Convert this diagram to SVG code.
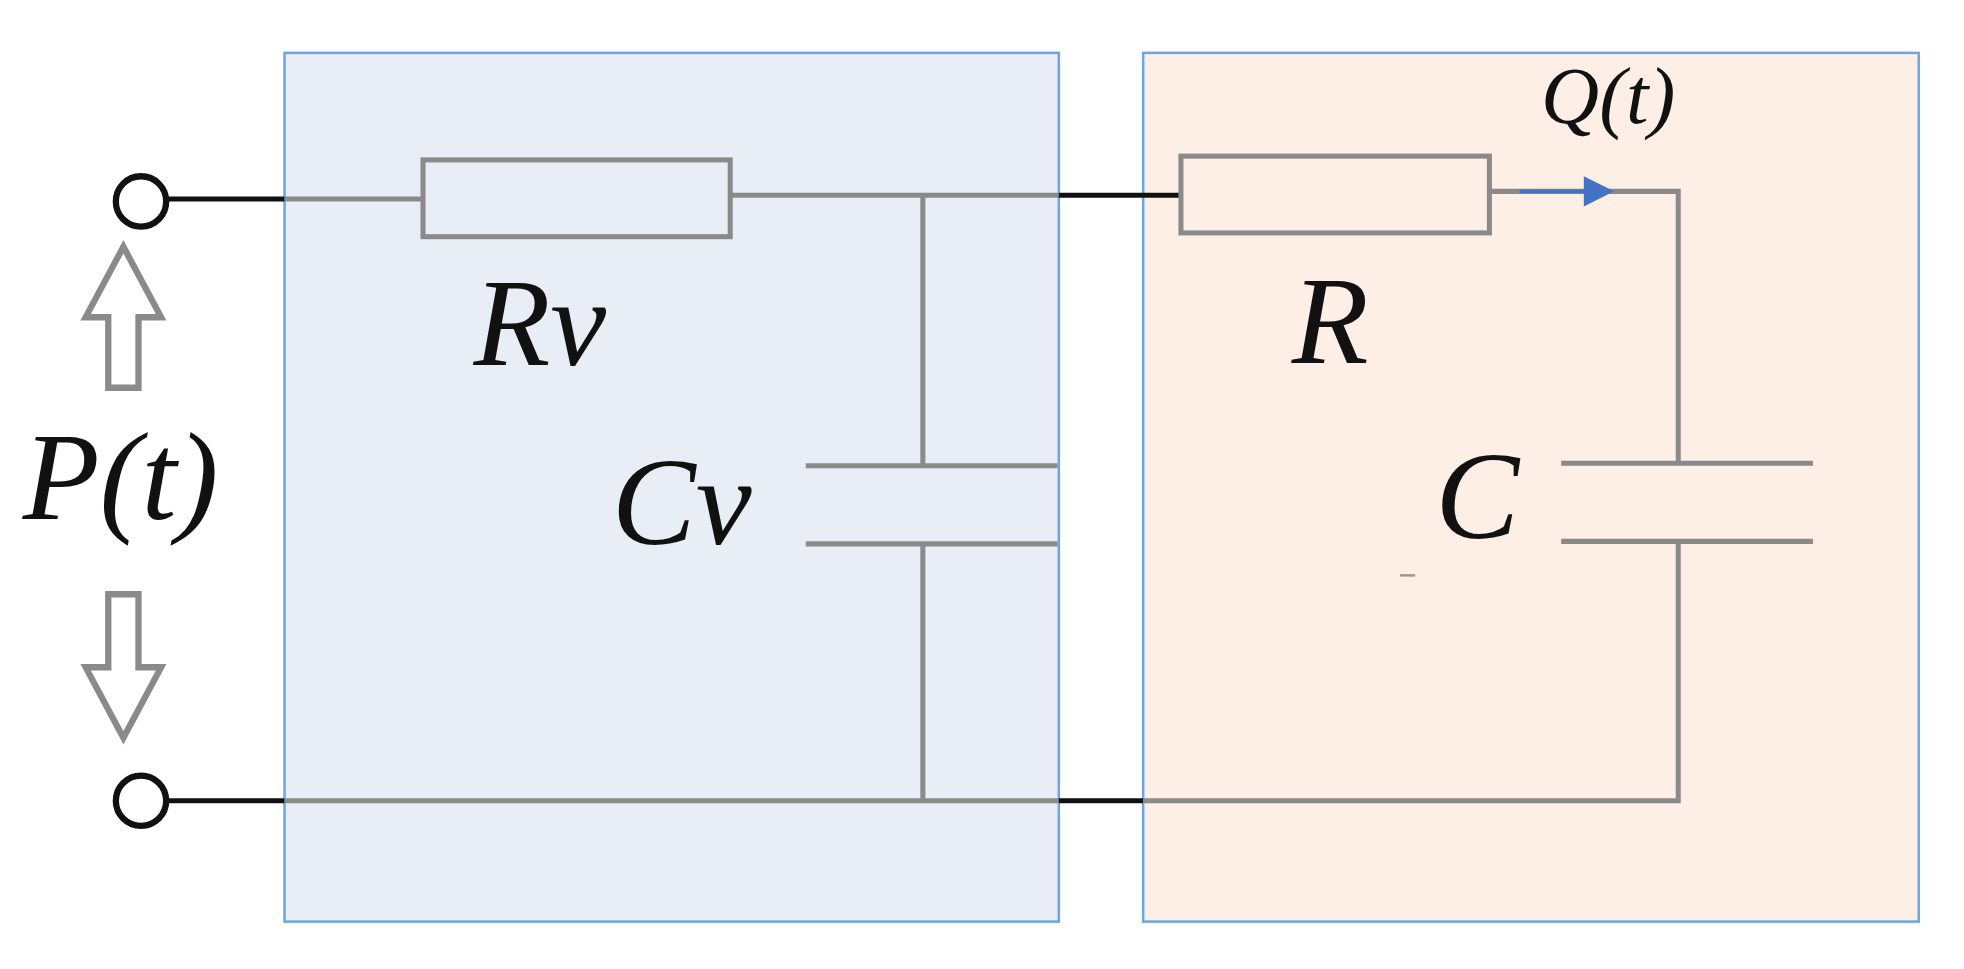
<svg xmlns="http://www.w3.org/2000/svg" width="1964" height="969" viewBox="0 0 1964 969">
<style>
.w{stroke:#8a8a8a;stroke-width:4;fill:none}
.k{stroke:#111;stroke-width:4;fill:none}
.t{font-family:"Liberation Serif",serif;font-style:italic;fill:#111}
</style>
<rect width="1964" height="969" fill="#fff"/>
<g transform="scale(1.259)">
<g id="boxBlue"><rect x="226" y="42" width="615" height="690" fill="#e9edf6" stroke="#6aa6e0" stroke-width="2"/></g>
<g id="boxPeach"><rect x="908" y="42" width="616" height="690" fill="#fdefe6" stroke="#6aa6e0" stroke-width="2"/></g>
<g id="connectors">
<line class="k" x1="132" y1="158" x2="226" y2="158"/>
<polyline class="w" points="226,158 336,158"/>
<line class="w" x1="580" y1="155" x2="841" y2="155"/>
<line class="k" x1="841" y1="155" x2="938" y2="155"/>
<line class="w" x1="733" y1="155" x2="733" y2="370"/>
<line class="w" x1="733" y1="432" x2="733" y2="636"/>
<line class="k" x1="132" y1="636" x2="226" y2="636"/>
<line class="w" x1="226" y1="636" x2="841" y2="636"/>
<line class="k" x1="841" y1="636" x2="908" y2="636"/>
<polyline class="w" points="908,636 1333,636 1333,430"/>
<polyline class="w" points="1183,152 1333,152 1333,368"/>
<line x1="1207" y1="152" x2="1262" y2="152" stroke="#4472c4" stroke-width="3"/>
<polygon points="1258,140 1282,152 1258,164" fill="#4472c4"/>
</g>
<g id="Rv"><rect class="w" x="336" y="127" width="244" height="61"/><text class="t" x="376" y="290" font-size="100">Rv</text></g>
<g id="R"><rect class="w" x="938" y="124" width="245" height="61"/><text class="t" x="1026" y="288" font-size="100">R</text></g>
<g id="Cv"><line class="w" x1="640" y1="370" x2="840" y2="370"/><line class="w" x1="640" y1="432" x2="840" y2="432"/><text class="t" x="486" y="432" font-size="100">Cv</text></g>
<g id="C"><line class="w" x1="1240" y1="368" x2="1440" y2="368"/><line class="w" x1="1240" y1="430" x2="1440" y2="430"/><text class="t" x="1140" y="427" font-size="100">C</text><line x1="1112" y1="457" x2="1124" y2="457" stroke="#999" stroke-width="2"/></g>
<g id="Q"><text class="t" x="1224" y="98" font-size="64">Q(t)</text></g>
<g id="terminals">
<circle cx="112" cy="160" r="20" fill="#fff" stroke="#111" stroke-width="5"/>
<circle cx="112" cy="636" r="20" fill="#fff" stroke="#111" stroke-width="5"/>
</g>
<g id="P">
<polygon points="98,196 128,252 110,252 110,308 86,308 86,252 68,252" fill="none" stroke="#8a8a8a" stroke-width="5"/>
<polygon points="86,472 110,472 110,530 128,530 98,586 68,530 86,530" fill="none" stroke="#8a8a8a" stroke-width="5"/>
<text class="t" x="18" y="412" font-size="100">P(t)</text>
</g>
</g>
</svg>
